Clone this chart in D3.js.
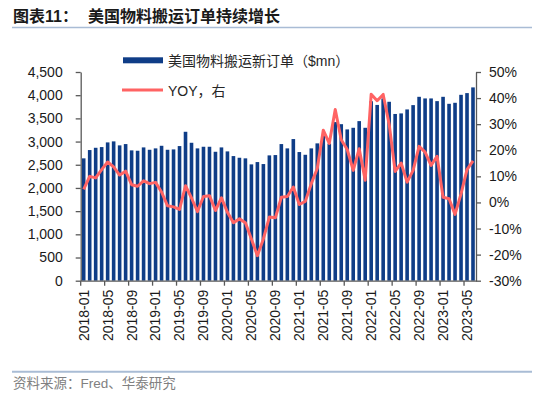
<!DOCTYPE html>
<html>
<head>
<meta charset="utf-8">
<script src="https://cdn.jsdelivr.net/npm/d3@7"></script>
<style>
  body { margin: 0; background: #fff; }
  text { font-family: "Liberation Sans", Arial, "Noto Sans CJK SC", sans-serif; }
</style>
</head>
<body>
<div id="chart"></div>
<script>
// months on the x axis, 2018-01 .. 2023-06
const months = [
  "2018-01","2018-02","2018-03","2018-04","2018-05","2018-06","2018-07","2018-08","2018-09","2018-10","2018-11","2018-12",
  "2019-01","2019-02","2019-03","2019-04","2019-05","2019-06","2019-07","2019-08","2019-09","2019-10","2019-11","2019-12",
  "2020-01","2020-02","2020-03","2020-04","2020-05","2020-06","2020-07","2020-08","2020-09","2020-10","2020-11","2020-12",
  "2021-01","2021-02","2021-03","2021-04","2021-05","2021-06","2021-07","2021-08","2021-09","2021-10","2021-11","2021-12",
  "2022-01","2022-02","2022-03","2022-04","2022-05","2022-06","2022-07","2022-08","2022-09","2022-10","2022-11","2022-12",
  "2023-01","2023-02","2023-03","2023-04","2023-05","2023-06"
]

// 美国物料搬运新订单 ($mn)
const orders = [
  2638, 2817, 2866, 2881, 2982, 3004, 2918, 2946, 2810, 2802, 2874, 2823,
  2853, 2909, 2823, 2831, 2903, 3211, 2974, 2853, 2888, 2888, 2780, 2874,
  2788, 2687, 2651, 2638, 2508, 2558, 2515, 2702, 2709, 2946, 2853, 3054,
  2774, 2715, 2853, 2961, 3140, 2955, 3420, 3375, 3262, 3297, 3441, 3297,
  3870, 3790, 3930, 3858, 3595, 3607, 3693, 3786, 3965, 3930, 3930, 3872,
  3965, 3814, 3836, 4008, 4045, 4168
]

// YOY (%), right axis
const yoy = [
  5.0, 10.0, 9.4, 12.6, 15.5, 13.6, 10.5, 12.0, 6.8, 6.2, 8.3, 7.2,
  7.7, 4.0, -1.3, -1.7, -2.7, 6.4, 1.7, -3.5, 2.3, 2.6, -3.1, 1.8,
  -3.8, -7.8, -6.3, -7.8, -14.0, -20.4, -14.0, -5.6, -5.9, 2.0, 2.3, 5.9,
  -0.8, 0.4, 7.2, 13.0, 27.7, 22.6, 35.6, 24.0, 20.3, 12.3, 20.6, 8.5,
  41.5, 39.0, 41.4, 30.0, 11.9, 15.1, 7.8, 12.3, 21.5, 19.3, 14.2, 17.7,
  2.0, 1.4, -4.6, 3.3, 12.6, 15.9
]

const leftTicks = [0, 500, 1000, 1500, 2000, 2500, 3000, 3500, 4000, 4500]
const rightTicks = [-30, -20, -10, 0, 10, 20, 30, 40, 50]
const xTickLabels = ["2018-01","2018-05","2018-09","2019-01","2019-05","2019-09","2020-01","2020-05",
  "2020-09","2021-01","2021-05","2021-09","2022-01","2022-05","2022-09","2023-01","2023-05"]

var width = 550, height = 398
var plot = { left: 80.7, right: 476, top: 72, bottom: 280.7 }
var mixedFont = "'Liberation Sans', Arial, 'Noto Sans CJK SC', sans-serif"

var svg = d3.select("#chart")
    .append("svg")
    .attr("width", width)
    .attr("height", height)

// title + rules
svg.append("text")
    .attr("x", 13)
    .attr("y", 22)
    .attr("font-size", 16)
    .attr("font-weight", "bold")
    .attr("fill", "#1a1a1a")
    .style("font-family", mixedFont)
    .text("图表11：")
svg.append("text")
    .attr("x", 88)
    .attr("y", 22)
    .attr("font-size", 16)
    .attr("font-weight", "bold")
    .attr("fill", "#1a1a1a")
    .style("font-family", "'Noto Sans CJK SC', sans-serif")
    .text("美国物料搬运订单持续增长")

svg.append("line")
    .attr("x1", 12).attr("x2", 532)
    .attr("y1", 27.4).attr("y2", 27.4)
    .attr("stroke", "#A9BCD5").attr("stroke-width", 1.5)

svg.append("line")
    .attr("x1", 12).attr("x2", 532)
    .attr("y1", 371.7).attr("y2", 371.7)
    .attr("stroke", "#A9BCD5").attr("stroke-width", 2)

svg.append("text")
    .attr("x", 13)
    .attr("y", 388)
    .attr("font-size", 13.5)
    .attr("fill", "#808080")
    .style("font-family", mixedFont)
    .text("资料来源：Fred、华泰研究")

// SCALES
var x = d3.scaleBand()
    .domain(months)
    .range([plot.left, plot.right])
    .padding(0)

var yLeft = d3.scaleLinear().domain([0, 4500]).range([plot.bottom, plot.top])
var yRight = d3.scaleLinear().domain([-30, 50]).range([plot.bottom, plot.top])

var barW = 3.6

// BARS
svg.selectAll(".bar")
    .data(orders)
    .enter().append("rect")
    .attr("class", "bar")
    .attr("x", (d, i) => x(months[i]) + x.bandwidth() / 2 - barW / 2)
    .attr("y", d => yLeft(d))
    .attr("width", barW)
    .attr("height", d => yLeft(0) - yLeft(d))
    .attr("fill", "#0F3D87")

// LINE
var line = d3.line()
    .x((d, i) => x(months[i]) + x.bandwidth() / 2)
    .y(d => yRight(d))

svg.append("path")
    .datum(yoy)
    .attr("d", line)
    .attr("fill", "none")
    .attr("stroke", "#FF6363")
    .attr("stroke-width", 3)
    .attr("stroke-linejoin", "round")

// AXES
var axisColor = "#595959"

var gLeft = svg.append("g")
    .attr("transform", "translate(" + plot.left + ",0)")
    .call(d3.axisLeft(yLeft).tickValues(leftTicks).tickSize(5).tickSizeOuter(0).tickPadding(13).tickFormat(d3.format(",")))

var gRight = svg.append("g")
    .attr("transform", "translate(" + plot.right + ",0)")
    .call(d3.axisRight(yRight).tickValues(rightTicks).tickSize(5).tickSizeOuter(0).tickPadding(8).tickFormat(d => d + "%"))

var gBottom = svg.append("g")
    .attr("transform", "translate(0," + plot.bottom + ")")
    .call(d3.axisBottom(x).tickValues(xTickLabels).tickSize(5).tickSizeOuter(0))

gBottom.selectAll(".tick line")
    .attr("x1", -x.bandwidth() / 2)
    .attr("x2", -x.bandwidth() / 2)

gBottom.selectAll(".tick text")
    .attr("transform", "rotate(-90)")
    .attr("x", -9)
    .attr("y", 0)
    .attr("dy", "0.35em")
    .attr("text-anchor", "end")

;[gLeft, gRight, gBottom].forEach(function (g) {
    g.selectAll("path").attr("stroke", axisColor).attr("stroke-width", 1.3)
    g.selectAll("line").attr("stroke", axisColor).attr("stroke-width", 1.3)
    g.selectAll("text").attr("font-size", 14).attr("fill", "#1a1a1a")
        .style("font-family", "'Liberation Sans', Arial, sans-serif")
})

// LEGEND
svg.append("rect")
    .attr("x", 123).attr("y", 57.3)
    .attr("width", 40).attr("height", 6)
    .attr("fill", "#0F3D87")
svg.append("text")
    .attr("x", 168).attr("y", 60.7)
    .attr("dy", "0.35em")
    .attr("font-size", 14)
    .attr("fill", "#262626")
    .style("font-family", mixedFont)
    .text("美国物料搬运新订单（$mn）")

svg.append("line")
    .attr("x1", 122).attr("x2", 163)
    .attr("y1", 90).attr("y2", 90)
    .attr("stroke", "#FF6363").attr("stroke-width", 3)
svg.append("text")
    .attr("x", 168).attr("y", 90.7)
    .attr("dy", "0.35em")
    .attr("font-size", 14)
    .attr("fill", "#262626")
    .style("font-family", mixedFont)
    .text("YOY，右")
</script>
</body>
</html>
